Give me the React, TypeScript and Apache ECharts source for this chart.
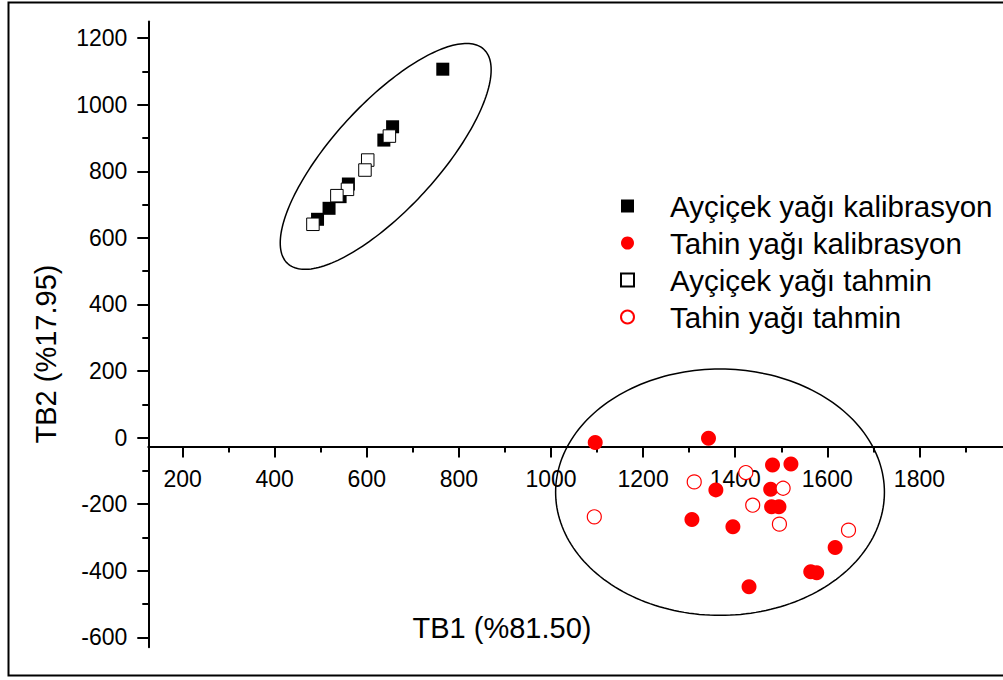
import React, { useEffect, useRef } from "react";
import * as echarts from "echarts";

const FONT = '"Liberation Sans", Arial, Helvetica, sans-serif';

// axis ticks and labels
const xMajorTicks = [200, 400, 600, 800, 1000, 1200, 1400, 1600, 1800];
const xMinorTicks = [300, 500, 700, 900, 1100, 1300, 1500, 1700, 1900];
const yMajorTicks = [-600, -400, -200, 0, 200, 400, 600, 800, 1000, 1200];
const yMinorTicks = [-500, -300, -100, 100, 300, 500, 700, 900, 1100];

const xTitle = "TB1 (%81.50)";
const yTitle = "TB2 (%17.95)";

const seriesNames = [
  "Ayçiçek yağı kalibrasyon",
  "Tahin yağı kalibrasyon",
  "Ayçiçek yağı tahmin",
  "Tahin yağı tahmin",
];

// [TB1, TB2]
const sunflowerCalibration = [
  [765, 1107], [656, 934], [637, 894], [560, 762], [542, 724], [518, 689], [493, 656],
];
const sunflowerPrediction = [
  [649, 906], [602, 834], [596, 804], [558, 746], [535, 727], [483, 641],
];
const tahiniCalibration = [
  [1096, -15], [1342, -2], [1481, -82], [1521, -79], [1358, -157], [1477, -155],
  [1479, -208], [1495, -208], [1306, -246], [1395, -268], [1617, -330], [1564, -403],
  [1577, -406], [1430, -448],
];
const tahiniPrediction = [
  [1423, -105], [1311, -133], [1504, -152], [1438, -203], [1094, -238], [1496, -260],
  [1646, -278],
];

// group ellipses: centre (x, y), conjugate semi-axis vectors (ax, ay), (bx, by) in data units
const groupEllipses = [
  [641, 845, 229, 260, 0, 218],
  [1367, -164, 357, 0, 0, 370],
];

const X_MIN = 125.5;
const X_MAX = 1981.5;
const Y_MIN = -630;
const Y_MAX = 1250;
const X_AXIS_CROSS = -27;

const SQUARE_ICON = "path://M0,0H10V10H0Z";

const VIEW_W = 1003;
const VIEW_H = 680;
const CANVAS_W = 1120;

export default function App() {
  const ref = useRef<HTMLDivElement>(null);

  useEffect(() => {
    if (!ref.current) return;
    const chart = echarts.init(ref.current, undefined, { renderer: "svg" });

    const gridTop = 21.6;
    const gridBottom = 32.7;
    const gridHeight = VIEW_H - gridTop - gridBottom;
    const pxPerY = gridHeight / (Y_MAX - Y_MIN);
    const xAxisOffset = -((X_AXIS_CROSS - Y_MIN) * pxPerY);

    const axisLineStyle = { color: "#000", width: 2 };
    const labelStyle = {
      color: "#000",
      fontSize: 23,
      fontFamily: FONT,
      formatter: (v: number) => String(v),
    };

    const option: any = {
      animation: false,
      backgroundColor: "#fff",
      textStyle: { fontFamily: FONT },
      grid: {
        left: 148.3,
        right: CANVAS_W - VIEW_W,
        top: gridTop,
        bottom: gridBottom,
        containLabel: false,
      },
      xAxis: [
        {
          type: "value",
          min: X_MIN,
          max: X_MAX,
          position: "bottom",
          offset: xAxisOffset,
          axisLine: { show: true, onZero: false, lineStyle: axisLineStyle },
          axisTick: { show: true, length: 11, lineStyle: axisLineStyle, customValues: xMajorTicks },
          axisLabel: { ...labelStyle, margin: 21, customValues: xMajorTicks },
          splitLine: { show: false },
        },
        {
          type: "value",
          min: X_MIN,
          max: X_MAX,
          position: "bottom",
          offset: xAxisOffset,
          axisLine: { show: false, onZero: false },
          axisTick: { show: true, length: 6, lineStyle: axisLineStyle, customValues: xMinorTicks },
          axisLabel: { show: false },
          splitLine: { show: false },
        },
      ],
      yAxis: [
        {
          type: "value",
          min: Y_MIN,
          max: Y_MAX,
          position: "left",
          axisLine: { show: true, onZero: false, lineStyle: axisLineStyle },
          axisTick: { show: true, length: 11, lineStyle: axisLineStyle, customValues: yMajorTicks },
          axisLabel: { ...labelStyle, margin: 21, customValues: yMajorTicks },
          splitLine: { show: false },
        },
        {
          type: "value",
          min: Y_MIN,
          max: Y_MAX,
          position: "left",
          axisLine: { show: false, onZero: false },
          axisTick: { show: true, length: 6, lineStyle: axisLineStyle, customValues: yMinorTicks },
          axisLabel: { show: false },
          splitLine: { show: false },
        },
      ],
      legend: {
        orient: "vertical",
        left: 615,
        top: 186,
        itemWidth: 75,
        itemHeight: 13,
        itemGap: 7,
        selectedMode: false,
        textStyle: { fontSize: 29.5, color: "#000", fontFamily: FONT },
        data: [
          { name: seriesNames[0], icon: SQUARE_ICON },
          { name: seriesNames[1], icon: "circle" },
          { name: seriesNames[2], icon: SQUARE_ICON },
          { name: seriesNames[3], icon: "circle" },
        ],
      },
      graphic: [
        {
          type: "rect",
          silent: true,
          shape: { x: 8.5, y: 2.5, width: 1040, height: 673 },
          style: { fill: "none", stroke: "#000", lineWidth: 2 },
        },
        {
          type: "text",
          silent: true,
          x: 502,
          y: 628,
          style: {
            text: xTitle,
            fontSize: 29,
            fontFamily: FONT,
            fill: "#000",
            align: "center",
            verticalAlign: "middle",
          },
        },
        {
          type: "text",
          silent: true,
          x: 46,
          y: 354,
          rotation: Math.PI / 2,
          style: {
            text: yTitle,
            fontSize: 29,
            fontFamily: FONT,
            fill: "#000",
            align: "center",
            verticalAlign: "middle",
          },
        },
      ],
      series: [
        {
          type: "custom",
          name: "groups",
          silent: true,
          clip: false,
          xAxisIndex: 0,
          yAxisIndex: 0,
          dimensions: ["x", "y", "ax", "ay", "bx", "by"],
          encode: { x: 0, y: 1 },
          data: groupEllipses,
          renderItem: (params: any, api: any) => {
            const cx = api.value(0);
            const cy = api.value(1);
            const c = api.coord([cx, cy]);
            const pa = api.coord([cx + api.value(2), cy + api.value(3)]);
            const pb = api.coord([cx + api.value(4), cy + api.value(5)]);
            const A = [pa[0] - c[0], pa[1] - c[1]];
            const B = [pb[0] - c[0], pb[1] - c[1]];
            const pts: number[][] = [];
            const n = 200;
            for (let i = 0; i < n; i++) {
              const t = (i / n) * Math.PI * 2;
              const ct = Math.cos(t);
              const st = Math.sin(t);
              pts.push([c[0] + A[0] * ct + B[0] * st, c[1] + A[1] * ct + B[1] * st]);
            }
            return {
              type: "polygon",
              shape: { points: pts },
              style: { fill: "none", stroke: "#000", lineWidth: 1.5 },
            };
          },
          z: 1,
        },
        {
          type: "scatter",
          name: seriesNames[0],
          data: sunflowerCalibration,
          symbol: "rect",
          symbolSize: 13,
          itemStyle: { color: "#000", opacity: 1 },
          silent: true,
          z: 2,
        },
        {
          type: "scatter",
          name: seriesNames[2],
          data: sunflowerPrediction,
          symbol: "rect",
          symbolSize: 12.5,
          itemStyle: { color: "#fff", borderColor: "#000", borderWidth: 1, opacity: 1 },
          silent: true,
          z: 3,
        },
        {
          type: "scatter",
          name: seriesNames[1],
          data: tahiniCalibration,
          symbol: "circle",
          symbolSize: 15,
          itemStyle: { color: "#ff0000", opacity: 1 },
          silent: true,
          z: 2,
        },
        {
          type: "scatter",
          name: seriesNames[3],
          data: tahiniPrediction,
          symbol: "circle",
          symbolSize: 14,
          itemStyle: { color: "#fff", borderColor: "#ff0000", borderWidth: 1.2, opacity: 1 },
          silent: true,
          z: 3,
        },
      ],
    };

    chart.setOption(option);
    return () => chart.dispose();
  }, []);

  return (
    <div
      style={{
        position: "fixed",
        left: 0,
        top: 0,
        width: VIEW_W,
        height: VIEW_H,
        overflow: "hidden",
        background: "#fff",
      }}
    >
      <div ref={ref} style={{ width: CANVAS_W, height: VIEW_H }} />
    </div>
  );
}
